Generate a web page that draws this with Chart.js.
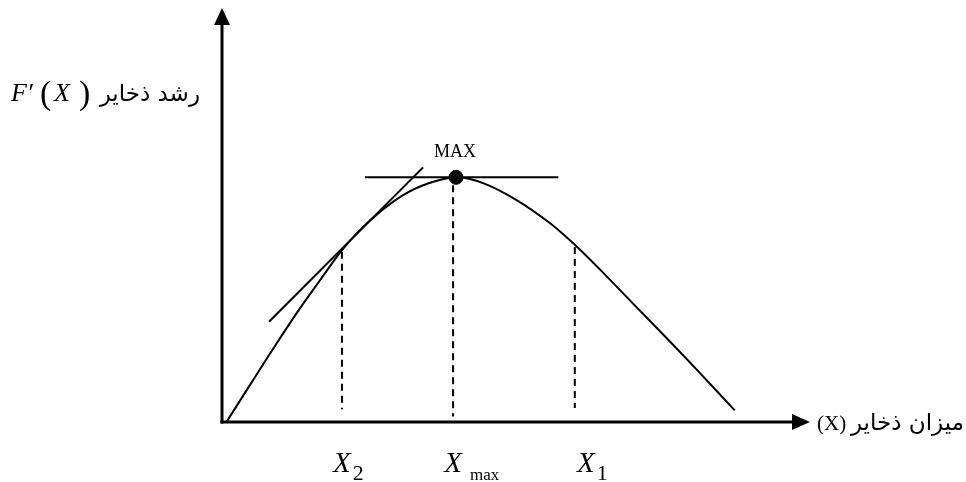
<!DOCTYPE html>
<html>
<head>
<meta charset="utf-8">
<script src="https://cdn.jsdelivr.net/npm/chart.js@4"></script>
<style>
  html, body { margin: 0; padding: 0; background: #fff; }
  #wrap { width: 966px; height: 482px; }
</style>
</head>
<body>
<div id="wrap"><canvas id="growthChart"></canvas></div>
<script>
// stock (x) and growth (y), axes 0..100
const curveX = [0.8, 4.2, 8.2, 12.7, 16.7, 20.4, 23.5, 26.9, 30.8, 34.8, 39.8, 44.4, 50.1, 55.8, 60.0, 64.3, 69.9, 75.6, 81.3, 87.2];
const curveY = [0.1, 7.7, 16.6, 26.3, 34.3, 41.5, 46.4, 50.8, 54.8, 57.5, 59.1, 57.7, 53.6, 48.0, 42.8, 36.8, 28.6, 20.3, 11.8, 2.8];

const tangentX = [8.0, 34.2];
const tangentY = [24.2, 61.5];
const maxLineX = [24.3, 57.2];
const maxLineY = [59.1, 59.1];

const maxPoint = { x: 39.8, y: 59.1 };

// dashed drops to the axis: X2, Xmax, X1
const dropX = [20.4, 39.3, 60.0];
const dropTop = [41.1, 57.2, 42.3];
const dropBottom = [3.1, 1.3, 3.4];
const tickMain = ['X', 'X', 'X'];
const tickSub = ['2', 'max', '1'];

const pts = (xs, ys) => xs.map((x, i) => ({ x: x, y: ys[i] }));

const line = (data, extra) => Object.assign({
  data: data,
  showLine: true,
  borderColor: '#000',
  borderWidth: 2,
  pointRadius: 0,
  fill: false
}, extra || {});

const datasets = [
  line(pts(curveX, curveY), { tension: 0.35 }),
  line(pts(tangentX, tangentY)),
  line(pts(maxLineX, maxLineY))
];
dropX.forEach((x, i) => {
  datasets.push(line([{ x: x, y: dropTop[i] }, { x: x, y: dropBottom[i] }], { borderDash: [7, 5] }));
});
datasets.push({
  data: [maxPoint],
  pointRadius: 7,
  pointBackgroundColor: '#000',
  pointBorderColor: '#000',
  showLine: false
});

const serif = "'Liberation Serif', 'DejaVu Serif', serif";
const arabic = "'DejaVu Sans', 'Noto Sans', sans-serif";

const axesAndText = {
  id: 'axesAndText',
  afterDatasetsDraw(chart) {
    const ctx = chart.ctx;
    const xs = chart.scales.x, ys = chart.scales.y;
    const ox = xs.getPixelForValue(0), oy = ys.getPixelForValue(0);
    const top = chart.chartArea.top, right = chart.chartArea.right;
    ctx.save();
    ctx.strokeStyle = '#000';
    ctx.fillStyle = '#000';
    ctx.lineWidth = 3;
    // y axis + arrow
    ctx.beginPath();
    ctx.moveTo(ox, oy + 1.5);
    ctx.lineTo(ox, top + 14);
    ctx.stroke();
    ctx.beginPath();
    ctx.moveTo(ox, top);
    ctx.lineTo(ox - 8, top + 17);
    ctx.lineTo(ox + 8, top + 17);
    ctx.closePath();
    ctx.fill();
    // x axis + arrow
    ctx.beginPath();
    ctx.moveTo(ox - 1.5, oy);
    ctx.lineTo(right - 14, oy);
    ctx.stroke();
    ctx.beginPath();
    ctx.moveTo(right, oy);
    ctx.lineTo(right - 18, oy - 8);
    ctx.lineTo(right - 18, oy + 8);
    ctx.closePath();
    ctx.fill();

    // tick labels X2, Xmax, X1 (the last one sits a bit right of its line)
    const shift = [0, 0, 11];
    ctx.textBaseline = 'alphabetic';
    dropX.forEach((v, i) => {
      const px = xs.getPixelForValue(v) + shift[i];
      ctx.font = 'italic 29px ' + serif;
      ctx.textAlign = 'center';
      ctx.fillText(tickMain[i], px, oy + 50);
      const w = ctx.measureText(tickMain[i]).width;
      ctx.textAlign = 'left';
      if (tickSub[i] === 'max') {
        ctx.font = '17px ' + serif;
        ctx.fillText(tickSub[i], px + w / 2 + 8, oy + 58);
      } else {
        ctx.font = '22px ' + serif;
        ctx.fillText(tickSub[i], px + w / 2 + 2, oy + 58);
      }
    });

    // MAX
    ctx.font = '18px ' + serif;
    ctx.textAlign = 'center';
    ctx.fillText('MAX', xs.getPixelForValue(maxPoint.x) - 1, ys.getPixelForValue(maxPoint.y) - 20);

    // x axis title
    ctx.textAlign = 'left';
    ctx.font = '21px ' + serif;
    ctx.fillText('(X)', right + 7, oy + 8);
    ctx.font = '23px ' + arabic;
    ctx.direction = 'rtl';
    ctx.textAlign = 'right';
    ctx.fillText('میزان ذخایر', 964, oy + 8);

    // y axis title
    ctx.direction = 'ltr';
    ctx.textAlign = 'left';
    ctx.font = 'italic 26px ' + serif;
    ctx.fillText('F\u2032', 11, 101);
    ctx.font = '34px ' + serif;
    ctx.fillText('(', 40, 104);
    ctx.font = 'italic 26px ' + serif;
    ctx.fillText('X', 54, 101);
    ctx.font = '34px ' + serif;
    ctx.fillText(')', 79, 104);
    ctx.font = '23px ' + arabic;
    ctx.direction = 'rtl';
    ctx.textAlign = 'right';
    ctx.fillText('رشد ذخایر', 200, 101);
    ctx.restore();
  }
};

const config = {
  type: 'scatter',
  data: { datasets: datasets },
  options: {
    responsive: true,
    maintainAspectRatio: false,
    animation: false,
    layout: { padding: { left: 222, right: 156, top: 8, bottom: 60 } },
    scales: {
      x: { type: 'linear', min: 0, max: 100, display: false },
      y: { type: 'linear', min: 0, max: 100, display: false }
    },
    plugins: {
      legend: { display: false },
      tooltip: { enabled: false }
    }
  },
  plugins: [axesAndText]
};

var ctx = document.getElementById('growthChart');
var myChart = new Chart(ctx, config);
</script>
</body>
</html>
